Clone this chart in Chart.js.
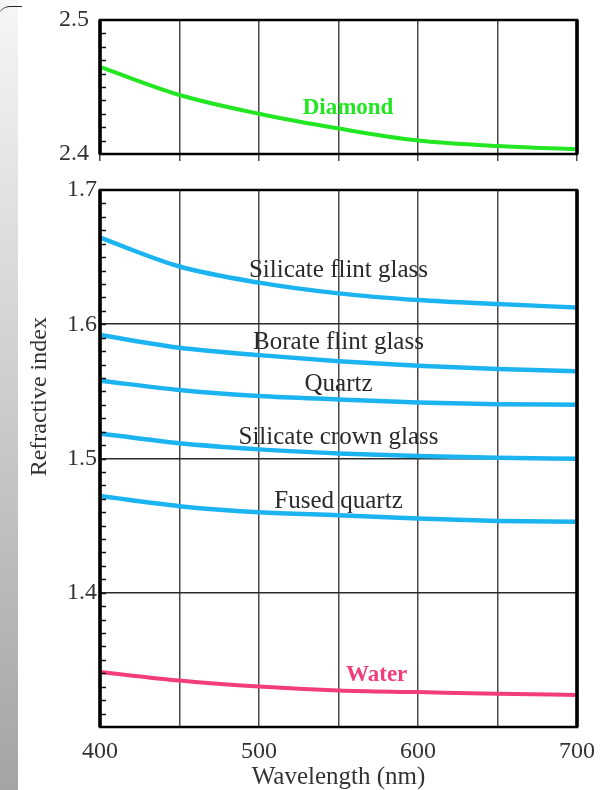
<!DOCTYPE html>
<html>
<head>
<meta charset="utf-8">
<script src="https://cdn.jsdelivr.net/npm/chart.js@4.4.1/dist/chart.umd.min.js"></script>
<style>
  html, body { margin: 0; padding: 0; background: #fff; }
  #page { position: relative; width: 606px; height: 790px; overflow: hidden; background: #fff; }
  #strip { position: absolute; left: 0; top: 0; width: 18px; height: 790px;
           background: linear-gradient(#f6f6f6, #a4a4a4); }
  #corner { position: absolute; left: -2px; top: 6px; width: 24px; height: 24px;
            border-top: 1.5px solid #222; border-radius: 12px 0 0 0; }
  #topBox { position: absolute; left: 0; top: -10px; width: 606px; height: 194px; }
  #botBox { position: absolute; left: 0; top: 160px; width: 606px; height: 630px; }
</style>
</head>
<body>
<div id="page">
  <div id="strip"></div>
  <div id="corner"></div>
  <div id="topBox"><canvas id="topChart"></canvas></div>
  <div id="botBox"><canvas id="botChart"></canvas></div>
</div>
<script>
// datos (nm, indice)
const wavelengths = [400, 450, 500, 550, 600, 650, 700];
const xTickLabels = [400, 500, 600, 700];

const diamond       = [2.465, 2.444, 2.430, 2.419, 2.410, 2.406, 2.4035];
const silicateFlint = [1.6645, 1.643, 1.631, 1.623, 1.618, 1.615, 1.6125];
const borateFlint   = [1.592, 1.5825, 1.577, 1.5725, 1.569, 1.5666, 1.565];
const quartz        = [1.558, 1.551, 1.5465, 1.544, 1.5418, 1.5405, 1.540];
const silicateCrown = [1.5187, 1.5113, 1.5068, 1.5038, 1.5018, 1.5006, 1.4998];
const fusedQuartz   = [1.472, 1.4645, 1.460, 1.4577, 1.4553, 1.4535, 1.4528];
const water         = [1.341, 1.3346, 1.3301, 1.3272, 1.326, 1.3248, 1.3238];

const topLabels = [2.4, 2.5];
const bottomLabels = [1.4, 1.5, 1.6, 1.7];

const SERIF = '"Liberation Serif", "DejaVu Serif", serif';
const GREEN = '#22e622';
const BLUE = '#1cb4f0';
const PINK = '#f23c7c';

const pts = arr => wavelengths.map((w, i) => ({ x: w, y: arr[i] }));

// marco + marcas menores hacia dentro en el eje y
const framePlugin = {
    id: 'framePlugin',
    afterDraw(chart, args, opts) {
        const { ctx, chartArea: a, scales: { y } } = chart;
        ctx.save();
        ctx.strokeStyle = '#111';
        ctx.lineWidth = 1.5;
        const n = Math.round((y.max - y.min) / opts.minorStep);
        for (let i = 1; i < n; i++) {
            const py = Math.round(y.getPixelForValue(y.min + i * opts.minorStep)) + 0.5;
            ctx.beginPath();
            ctx.moveTo(a.left, py);
            ctx.lineTo(a.left + 6, py);
            ctx.stroke();
        }
        ctx.strokeStyle = '#000';
        ctx.lineWidth = 2.5;
        ctx.strokeRect(a.left, a.top, a.right - a.left, a.bottom - a.top);
        ctx.lineWidth = 3.5;
        ctx.beginPath();
        ctx.moveTo(a.left, a.top); ctx.lineTo(a.left, a.bottom);
        ctx.moveTo(a.right, a.top); ctx.lineTo(a.right, a.bottom);
        ctx.stroke();
        ctx.restore();
    }
};

// nombres de las curvas
const namesPlugin = {
    id: 'namesPlugin',
    afterDatasetsDraw(chart, args, opts) {
        const { ctx, scales: { x, y } } = chart;
        ctx.save();
        ctx.textAlign = 'center';
        ctx.textBaseline = 'middle';
        (opts.items || []).forEach(it => {
            ctx.font = it.font;
            ctx.fillStyle = it.color;
            ctx.fillText(it.text, x.getPixelForValue(it.at[0]), y.getPixelForValue(it.at[1]));
        });
        if (opts.yTitle) {
            const t = opts.yTitle;
            ctx.font = t.font;
            ctx.fillStyle = '#333';
            ctx.translate(t.left, y.getPixelForValue(t.value));
            ctx.rotate(-Math.PI / 2);
            ctx.fillText(t.text, 0, 0);
        }
        ctx.restore();
    }
};

const gridColor = '#4a4a4a';

// DIAMANTE (panel superior)
new Chart(document.getElementById('topChart'), {
    type: 'line',
    data: {
        datasets: [{
            label: 'Diamond',
            data: pts(diamond),
            borderColor: GREEN,
            borderWidth: 4,
            pointRadius: 0,
            cubicInterpolationMode: 'monotone'
        }]
    },
    options: {
        responsive: true,
        maintainAspectRatio: false,
        animation: false,
        layout: { padding: { top: 30, right: 29, left: 0, bottom: 0 } },
        plugins: {
            legend: { display: false },
            tooltip: { enabled: false },
            framePlugin: { minorStep: 0.01 },
            namesPlugin: {
                items: [{ text: 'Diamond', at: [556, 2.4345], color: GREEN, font: 'bold 23px ' + SERIF }]
            }
        },
        scales: {
            x: {
                type: 'linear', min: 400, max: 700,
                afterFit: s => { s.height = 30; },
                ticks: { stepSize: 50, display: false },
                grid: { color: gridColor, lineWidth: 1.5, tickLength: 7, drawTicks: true },
                border: { display: false }
            },
            y: {
                min: 2.4, max: 2.5,
                afterFit: s => { s.width = 100; },
                afterBuildTicks: s => { s.ticks = topLabels.map(v => ({ value: v })); },
                ticks: {
                    padding: 3,
                    color: '#333',
                    font: { family: SERIF, size: 24 },
                    callback: v => v.toFixed(1)
                },
                grid: { display: false },
                border: { display: false }
            }
        }
    },
    plugins: [framePlugin, namesPlugin]
});

// VIDRIOS Y AGUA (panel inferior)
const blueSet = (label, arr) => ({
    label, data: pts(arr), borderColor: BLUE, borderWidth: 4.5,
    pointRadius: 0, cubicInterpolationMode: 'monotone'
});

const labelFont = '25px ' + SERIF;
const labelInk = '#2a2a2a';

new Chart(document.getElementById('botChart'), {
    type: 'line',
    data: {
        datasets: [
            blueSet('Silicate flint glass', silicateFlint),
            blueSet('Borate flint glass', borateFlint),
            blueSet('Quartz', quartz),
            blueSet('Silicate crown glass', silicateCrown),
            blueSet('Fused quartz', fusedQuartz),
            {
                label: 'Water', data: pts(water), borderColor: PINK, borderWidth: 4,
                pointRadius: 0, cubicInterpolationMode: 'monotone'
            }
        ]
    },
    options: {
        responsive: true,
        maintainAspectRatio: false,
        animation: false,
        layout: { padding: { top: 30, right: 29, left: 0, bottom: 0 } },
        plugins: {
            legend: { display: false },
            tooltip: { enabled: false },
            framePlugin: { minorStep: 0.01 },
            namesPlugin: {
                items: [
                    { text: 'Silicate flint glass', at: [550, 1.6404], color: labelInk, font: labelFont },
                    { text: 'Borate flint glass', at: [550, 1.5862], color: labelInk, font: labelFont },
                    { text: 'Quartz', at: [550, 1.5554], color: labelInk, font: labelFont },
                    { text: 'Silicate crown glass', at: [550, 1.5160], color: labelInk, font: labelFont },
                    { text: 'Fused quartz', at: [550, 1.4683], color: labelInk, font: labelFont },
                    { text: 'Water', at: [574, 1.3386], color: PINK, font: 'bold 23px ' + SERIF }
                ],
                yTitle: { text: 'Refractive index', value: 1.546, left: 40, font: '24px ' + SERIF }
            }
        },
        scales: {
            x: {
                type: 'linear', min: 400, max: 700,
                afterFit: s => { s.height = 63; },
                ticks: {
                    stepSize: 50,
                    padding: 10,
                    maxRotation: 0,
                    color: '#333',
                    font: { family: SERIF, size: 24 },
                    callback: v => xTickLabels.includes(v) ? String(v) : ''
                },
                grid: { color: gridColor, lineWidth: 1.5, drawTicks: false },
                border: { display: false },
                title: {
                    display: true,
                    text: 'Wavelength (nm)',
                    color: '#333',
                    font: { family: SERIF, size: 25 },
                    padding: { top: 0, bottom: -2 }
                }
            },
            y: {
                min: 1.3, max: 1.7,
                afterFit: s => { s.width = 100; },
                ticks: {
                    stepSize: 0.1,
                    padding: 3,
                    color: '#333',
                    font: { family: SERIF, size: 24 },
                    callback: v => bottomLabels.some(b => Math.abs(b - v) < 1e-6) ? v.toFixed(1) : ''
                },
                grid: { color: '#2a2a2a', lineWidth: 1.5, drawTicks: false },
                border: { display: false }
            }
        }
    },
    plugins: [framePlugin, namesPlugin]
});
</script>
</body>
</html>
